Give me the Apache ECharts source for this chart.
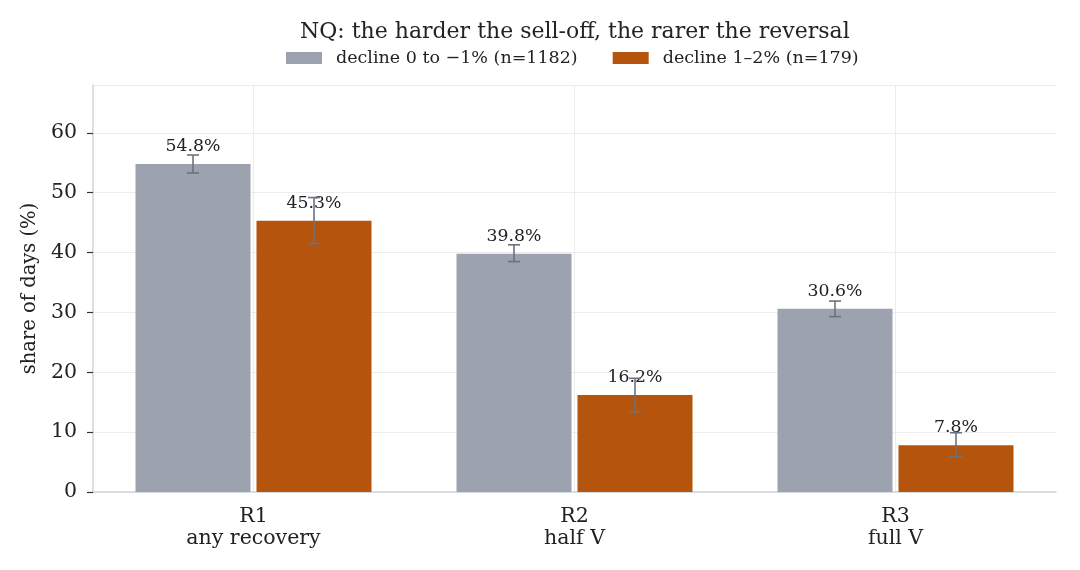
<!DOCTYPE html>
<html>
<head>
<meta charset="utf-8">
<script src="https://cdn.jsdelivr.net/npm/echarts@6/dist/echarts.min.js"></script>
<style>
  html, body { margin: 0; padding: 0; background: #fff; }
  #chart { width: 1080px; height: 570px; }
</style>
</head>
<body>
<div id="chart"></div>
<script>
const categories = ['R1\nany recovery', 'R2\nhalf V', 'R3\nfull V'];
const seriesNames = ['decline 0 to \u22121% (n=1182)', 'decline 1\u20132% (n=179)'];
const smallDecline = [54.8, 39.8, 30.6];
const bigDecline = [45.3, 16.2, 7.8];
// error bar ends (lower, upper)
const smallLow = [53.3, 38.5, 29.3];
const smallHigh = [56.3, 41.3, 31.9];
const bigLow = [41.5, 13.4, 5.9];
const bigHigh = [49.2, 19.0, 9.9];
const yTicks = { min: 0, max: 68, interval: 10 };

const FONT = 'DejaVu Serif';
const colors = ['#9ca3af', '#b5540c'];
const errColor = '#6b7280';
const barWidth = 115;
const barGap = 6;

const chart = echarts.init(document.getElementById('chart'));

function errorSeries(low, high, offset) {
  return {
    type: 'custom',
    z: 5,
    silent: true,
    data: low.map((l, i) => [i, l, high[i]]),
    renderItem(params, api) {
      const lo = api.coord([api.value(0), api.value(1)]);
      const hi = api.coord([api.value(0), api.value(2)]);
      const x = lo[0] + offset;
      const cap = 6;
      const style = { stroke: errColor, lineWidth: 1.6 };
      return {
        type: 'group',
        children: [
          { type: 'line', shape: { x1: x, y1: lo[1], x2: x, y2: hi[1] }, style },
          { type: 'line', shape: { x1: x - cap, y1: lo[1], x2: x + cap, y2: lo[1] }, style },
          { type: 'line', shape: { x1: x - cap, y1: hi[1], x2: x + cap, y2: hi[1] }, style }
        ]
      };
    }
  };
}

const offset = (barWidth + barGap) / 2;

const option = {
  backgroundColor: '#fff',
  animation: false,
  textStyle: { fontFamily: FONT },
  // title and legend sit centred over the plot area, not the canvas
  title: {
    text: 'NQ: the harder the sell-off, the rarer the reversal',
    left: 300,
    top: 21,
    padding: 0,
    textStyle: { fontFamily: FONT, fontSize: 22, fontWeight: 'normal', color: '#222' }
  },
  legend: {
    top: 49,
    left: 286,
    padding: 0,
    itemWidth: 36,
    itemHeight: 12,
    itemGap: 35,
    icon: 'rect',
    textStyle: { fontFamily: FONT, fontSize: 17.5, color: '#222', padding: [0, 0, 0, 9] },
    data: seriesNames
  },
  grid: { left: 93, right: 24, top: 85, bottom: 78 },
  xAxis: {
    type: 'category',
    data: categories,
    axisLine: { lineStyle: { color: '#d1d5db', width: 1.5 } },
    axisTick: { alignWithLabel: true, length: 6, lineStyle: { color: '#333', width: 1.2 } },
    axisLabel: { fontFamily: FONT, fontSize: 20.5, color: '#222', lineHeight: 22, margin: 14 },
    splitLine: { show: false }
  },
  yAxis: {
    type: 'value',
    min: yTicks.min,
    max: yTicks.max,
    interval: yTicks.interval,
    name: 'share of days (%)',
    nameLocation: 'middle',
    nameGap: 51,
    nameTextStyle: { fontFamily: FONT, fontSize: 19.5, color: '#222' },
    axisLine: { show: true, lineStyle: { color: '#d1d5db', width: 1.5 } },
    axisTick: { show: true, length: 6, lineStyle: { color: '#333', width: 1.2 } },
    axisLabel: { fontFamily: FONT, fontSize: 20.5, color: '#222', margin: 16, showMaxLabel: false },
    splitLine: { lineStyle: { color: '#ececec', width: 1 } }
  },
  series: [
    {
      type: 'custom',
      z: 0,
      silent: true,
      data: categories.map((c, i) => [i]),
      renderItem(params, api) {
        const bottom = api.coord([api.value(0), yTicks.min]);
        const top = api.coord([api.value(0), yTicks.max]);
        return {
          type: 'line',
          shape: { x1: bottom[0], y1: bottom[1], x2: top[0], y2: top[1] },
          style: { stroke: '#ececec', lineWidth: 1 }
        };
      }
    },
    {
      name: seriesNames[0],
      type: 'bar',
      z: 2,
      data: smallDecline,
      barWidth: barWidth,
      barGap: (barGap / barWidth * 100).toFixed(1) + '%',
      itemStyle: { color: colors[0] },
      label: {
        show: true, position: 'top', distance: 9,
        formatter: p => p.value.toFixed(1) + '%',
        fontFamily: FONT, fontSize: 17.3, color: '#222'
      }
    },
    {
      name: seriesNames[1],
      type: 'bar',
      z: 2,
      data: bigDecline,
      barWidth: barWidth,
      itemStyle: { color: colors[1] },
      label: {
        show: true, position: 'top', distance: 9,
        formatter: p => p.value.toFixed(1) + '%',
        fontFamily: FONT, fontSize: 17.3, color: '#222'
      }
    },
    errorSeries(smallLow, smallHigh, -offset),
    errorSeries(bigLow, bigHigh, offset)
  ]
};

chart.setOption(option);
</script>
</body>
</html>
